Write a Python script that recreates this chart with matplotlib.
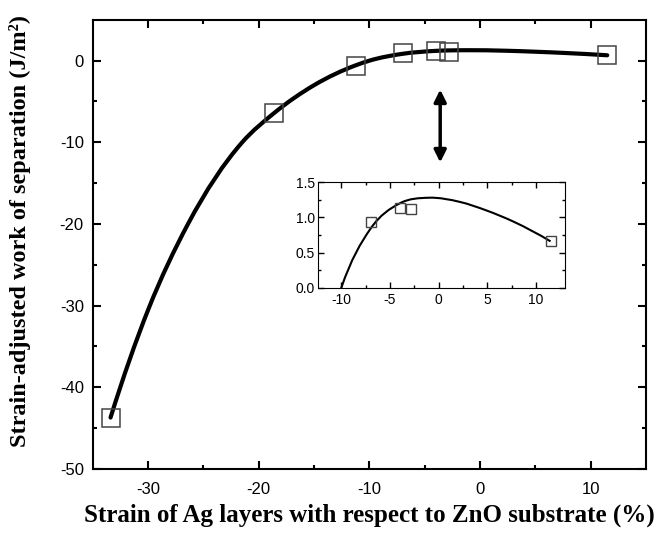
import numpy as np
import matplotlib.pyplot as plt
from matplotlib.path import Path
from matplotlib.patches import PathPatch

# strain (%) and strain-adjusted work of separation (J/m^2)
strain = [-33.4, -18.6, -11.2, -7.0, -4.0, -2.8, 11.5]
work = [-43.7, -6.4, -0.6, 0.94, 1.13, 1.12, 0.66]

# points
curve_x = [-33.4, -30.0, -26.4, -21.5, -18.6, -15.0, -11.2, -10.0, -7.0,
           -4.0, -1.0, 2.2, 4.9, 7.7, 11.5]
curve_y = [-43.7, -30.5, -20.0, -10.0, -6.4, -3.0, -0.55, 0.0, 0.84,
           1.20, 1.28, 1.22, 1.10, 0.94, 0.66]


def smooth_path(xs, ys):
    # cubic Hermite through the points, written as Bezier segments
    x = np.asarray(xs, float)
    y = np.asarray(ys, float)
    h = np.diff(x)
    d = np.diff(y) / h
    m = np.empty_like(x)
    m[1:-1] = (h[1:] * d[:-1] + h[:-1] * d[1:]) / (h[:-1] + h[1:])
    m[0] = d[0] + (d[0] - d[1]) * h[0] / (h[0] + h[1])
    m[-1] = d[-1] + (d[-1] - d[-2]) * h[-1] / (h[-1] + h[-2])
    verts = [(x[0], y[0])]
    codes = [Path.MOVETO]
    for i in range(len(h)):
        verts += [(x[i] + h[i] / 3, y[i] + m[i] * h[i] / 3),
                  (x[i + 1] - h[i] / 3, y[i + 1] - m[i + 1] * h[i] / 3),
                  (x[i + 1], y[i + 1])]
        codes += [Path.CURVE4] * 3
    return Path(verts, codes)


plt.rcParams['font.family'] = ['Liberation Sans', 'DejaVu Sans']
plt.rcParams['axes.unicode_minus'] = False

fig = plt.figure(figsize=(6.68, 5.36), dpi=100)
ax = fig.add_axes([0.139, 0.125, 0.828, 0.838])

ax.add_patch(PathPatch(smooth_path(curve_x, curve_y), facecolor='none',
                       edgecolor='black', linewidth=3, capstyle='round'))
ax.plot(strain, work, 's', markersize=13.5, markerfacecolor='none',
        markeredgecolor='#444444', markeredgewidth=1.1)

ax.set_xlim(-35, 15)
ax.set_ylim(-50, 5)
ax.set_xticks([-30, -20, -10, 0, 10])
ax.set_xticks([-25, -15, -5, 5], minor=True)
ax.set_yticks([0, -10, -20, -30, -40, -50])
ax.set_yticks([-5, -15, -25, -35, -45], minor=True)
ax.tick_params(which='both', direction='in', top=True, right=True, labelsize=12, width=1.5)
ax.tick_params(which='major', length=6)
ax.tick_params(which='minor', length=3)
ax.tick_params(axis='x', pad=9)
ax.tick_params(axis='y', pad=6.5)
for s in ax.spines.values():
    s.set_linewidth(1.5)

ax.set_xlabel('Strain of Ag layers with respect to ZnO substrate (%)',
              family='Liberation Serif', fontweight='bold', fontsize=18, labelpad=5)
ax.set_ylabel('Strain-adjusted work of separation (J/m²)',
              family='Liberation Serif', fontweight='bold', fontsize=17.5)
ax.yaxis.set_label_coords(-0.112, 0.53)

ax.annotate('', xy=(-3.6, -3.2), xytext=(-3.6, -12.8),
            arrowprops=dict(arrowstyle='<|-|>', color='black', lw=2.5, mutation_scale=18))

# inset zoom near zero
ins = fig.add_axes([0.476, 0.463, 0.370, 0.197])
ins.add_patch(PathPatch(smooth_path(curve_x, curve_y), facecolor='none',
                        edgecolor='black', linewidth=1.5))
ins.plot(strain, work, 's', markersize=7, markerfacecolor='none',
         markeredgecolor='#444444', markeredgewidth=1)
ins.set_xlim(-12.4, 13)
ins.set_ylim(0, 1.5)
ins.set_xticks([-10, -5, 0, 5, 10])
ins.set_xticks([-7.5, -2.5, 2.5, 7.5], minor=True)
ins.set_yticks([0, 0.5, 1.0, 1.5])
ins.set_yticks([0.25, 0.75, 1.25], minor=True)
ins.set_yticklabels(['0.0', '0.5', '1.0', '1.5'])
ins.tick_params(which='both', direction='in', top=True, right=True, labelsize=10, width=1)
ins.tick_params(which='major', length=4)
ins.tick_params(which='minor', length=2)
ins.tick_params(axis='y', pad=2)

fig.savefig('out.png', dpi=100)
